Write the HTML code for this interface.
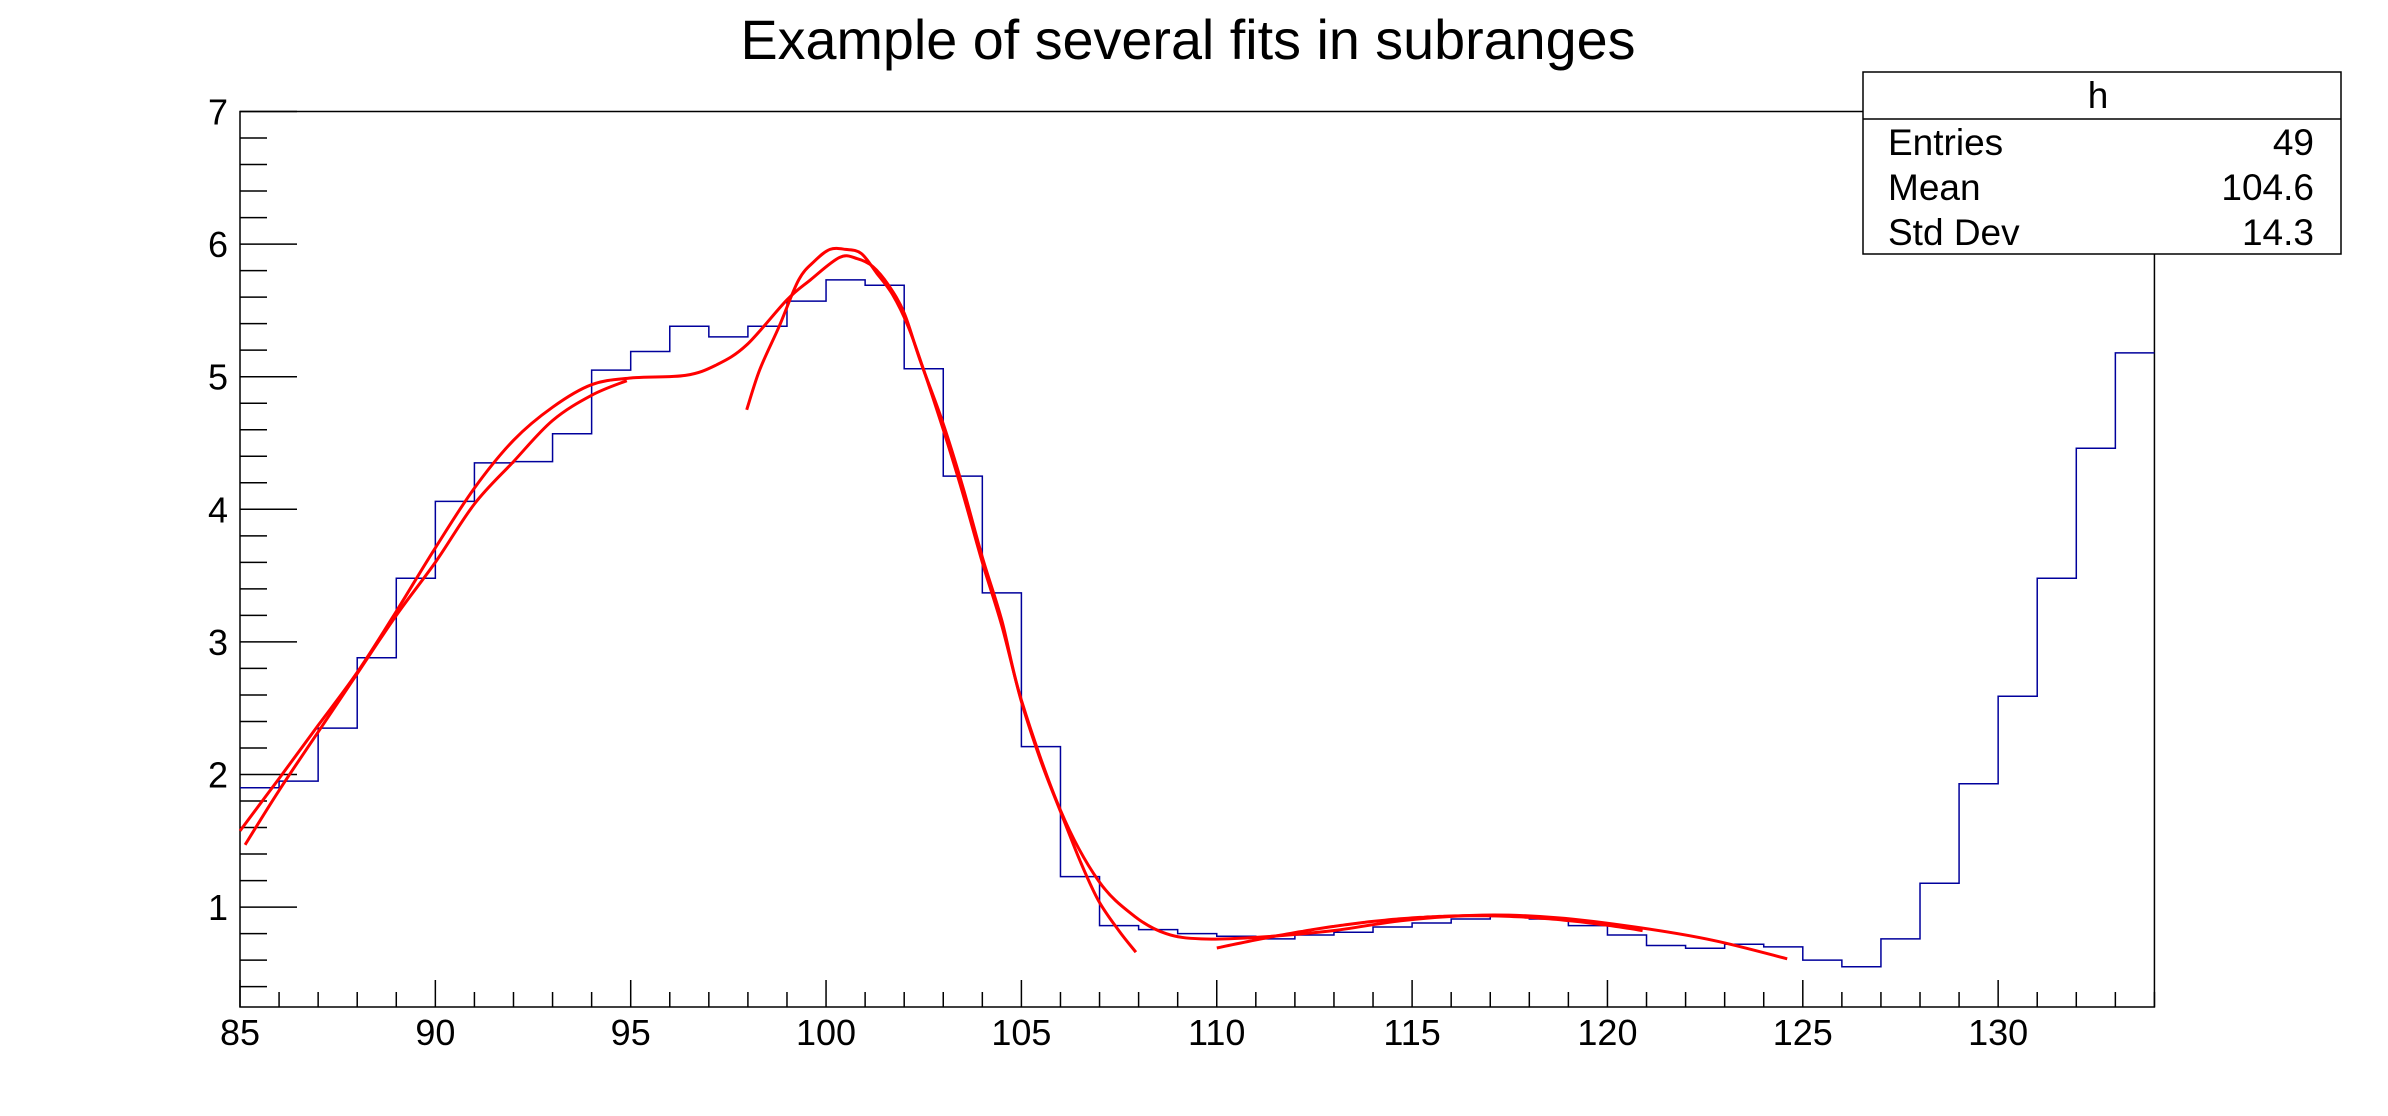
<!DOCTYPE html>
<html><head><meta charset="utf-8"><style>html,body{margin:0;padding:0;background:#fff}svg{display:block}</style></head>
<body>
<svg id="s" width="2388" height="1116" xmlns="http://www.w3.org/2000/svg" font-family="Liberation Sans, Arial, sans-serif">
<rect width="2388" height="1116" fill="#fff"/>
<text x="1188" y="59" font-size="56" text-anchor="middle" textLength="895" lengthAdjust="spacingAndGlyphs">Example of several fits in subranges</text>
<g id="g"></g>
<rect x="1863" y="72" width="478" height="182" fill="#fff" stroke="#000" stroke-width="1.5"/>
<line x1="1863" y1="119" x2="2341" y2="119" stroke="#000" stroke-width="1.5"/>
<text x="2098" y="108" font-size="37" text-anchor="middle">h</text>
<text x="1888" y="155" font-size="37">Entries</text><text x="2314" y="155" font-size="37" text-anchor="end">49</text>
<text x="1888" y="200" font-size="37">Mean</text><text x="2314" y="200" font-size="37" text-anchor="end">104.6</text>
<text x="1888" y="245" font-size="37">Std Dev</text><text x="2314" y="245" font-size="37" text-anchor="end">14.3</text>
</svg>
<script>
var X=function(v){return 240+(v-85)*39.07;};
var Y=function(v){return 111.5+(7-v)*132.6;};
var B=1007,R=X(134);
var h='';
h+='<rect x="240" y="111.5" width="'+(R-240)+'" height="'+(B-111.5)+'" fill="none" stroke="#000" stroke-width="1.5"/>';
for(var v=85;v<=134;v++){var x=X(v);var maj=(v%5==0);h+='<line x1="'+x+'" y1="'+B+'" x2="'+x+'" y2="'+(B-(maj?27:15))+'" stroke="#000" stroke-width="1.5"/>';
 if(maj&&v<=130)h+='<text x="'+x+'" y="1045" font-size="36" text-anchor="middle">'+v+'</text>';}
for(var i=2;i<=35;i++){var v=i/5;var y=Y(v);if(y>B)continue;var maj=(i%5==0);h+='<line x1="240" y1="'+y+'" x2="'+(240+(maj?57:27))+'" y2="'+y+'" stroke="#000" stroke-width="1.5"/>';
 if(maj)h+='<text x="228" y="'+(y+13)+'" font-size="36" text-anchor="end">'+(v)+'</text>';}
var d=[1.90,1.95,2.35,2.88,3.48,4.06,4.35,4.36,4.57,5.05,5.19,5.38,5.30,5.38,5.57,5.73,5.69,5.06,4.25,3.37,2.21,1.23,0.86,0.83,0.80,0.78,0.76,0.79,0.81,0.85,0.88,0.91,0.93,0.91,0.86,0.79,0.71,0.69,0.72,0.70,0.60,0.55,0.76,1.18,1.93,2.59,3.48,4.46,5.18];
var p='M'+X(85)+','+Y(d[0]);
for(var k=0;k<d.length;k++){if(k>0)p+=' L'+X(85+k)+','+Y(d[k]);p+=' L'+X(86+k)+','+Y(d[k]);}
h+='<path d="'+p+'" fill="none" stroke="#00009c" stroke-width="1.5"/>';
function smooth(tp){var P=tp.map(function(a){return [X(a[0]),Y(a[1])];});
 var q='M'+P[0][0].toFixed(1)+','+P[0][1].toFixed(1);
 for(var k=0;k<P.length-1;k++){var p0=P[Math.max(0,k-1)],p1=P[k],p2=P[k+1],p3=P[Math.min(P.length-1,k+2)];
  q+=' C'+(p1[0]+(p2[0]-p0[0])/6).toFixed(1)+','+(p1[1]+(p2[1]-p0[1])/6).toFixed(1)+' '+(p2[0]-(p3[0]-p1[0])/6).toFixed(1)+','+(p2[1]-(p3[1]-p1[1])/6).toFixed(1)+' '+p2[0].toFixed(1)+','+p2[1].toFixed(1);}
 return q;}
function gpath(A,m,s,a,b){var q='';for(var t=a;t<=b+1e-9;t+=0.1){q+=(q?' L':'M')+X(t).toFixed(1)+','+Y(A*Math.exp(-(t-m)*(t-m)/(2*s*s))).toFixed(1);}return q;}
var st='fill="none" stroke="#f00" stroke-width="3"';
// g1
h+='<path d="'+smooth([[85.13,1.47],[86,1.88],[87,2.32],[88,2.76],[89,3.2],[90,3.6],[91,4.04],[92,4.36],[93,4.67],[94,4.86],[94.9,4.97]])+'" '+st+'/>';
// g2
h+='<path d="'+smooth([[97.97,4.75],[98.3,5.05],[98.8,5.38],[99.3,5.73],[99.7,5.87],[100.1,5.96],[100.5,5.96],[100.9,5.93],[101.3,5.78],[101.7,5.62],[102.1,5.38],[102.5,5.05],[103,4.6],[103.5,4.12],[104,3.6],[104.5,3.12],[105,2.55],[105.5,2.1],[106,1.72],[106.5,1.35],[106.97,1.05],[107.5,0.82],[107.93,0.66]])+'" '+st+'/>';
// g3
h+='<path d="'+gpath(0.935,116.6,8.5,110,120.9)+'" '+st+'/>';
// total
h+='<path d="'+smooth([[85,1.575],[86,1.97],[87,2.37],[88,2.77],[89,3.23],[90,3.71],[91,4.16],[92,4.52],[93,4.77],[94,4.94],[95,4.99],[96.4,5.01],[97.2,5.09],[97.97,5.24],[99,5.58],[99.6,5.73],[100.35,5.9],[100.8,5.89],[101.2,5.83],[101.6,5.69],[102,5.48],[102.4,5.13],[102.97,4.67],[103.5,4.17],[104,3.64],[104.5,3.16],[105,2.56],[106,1.73],[106.97,1.2],[107.9,0.93],[108.7,0.8],[109.6,0.76],[110.9,0.77],[112.9,0.82],[114.8,0.9],[116.8,0.94],[118.7,0.92],[120.7,0.85],[122.7,0.75],[124.6,0.61]])+'" '+st+'/>';
document.getElementById('g').innerHTML=h;
</script>
</body></html>
